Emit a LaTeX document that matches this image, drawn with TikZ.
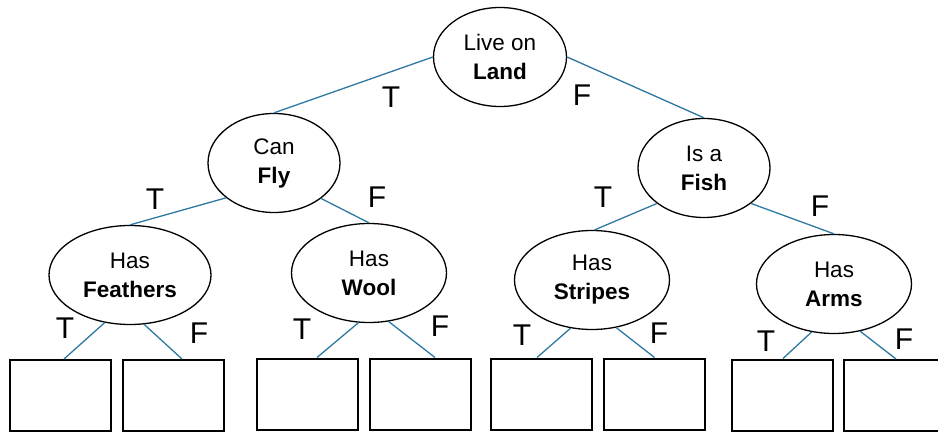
\documentclass[tikz,border=0pt]{standalone}
\usepackage{fontspec}
\setmainfont{Liberation Sans}
\usetikzlibrary{shapes.geometric,calc}
\definecolor{linkblue}{RGB}{46,120,162}
\tikzset{
  q/.style={ellipse, draw=black, line width=1.3pt, inner sep=0pt, align=center,
    font=\fontsize{22.5}{29}\selectfont, minimum height=99pt},
  leaf/.style={rectangle, draw=black, line width=2pt, minimum width=101pt, minimum height=71pt, inner sep=0pt},
  link/.style={draw=linkblue, line width=1.3pt},
  tf/.style={font=\fontsize{30}{30}\selectfont, inner sep=0pt}
}
\begin{document}
\begin{tikzpicture}[x=1pt,y=-1pt]
\useasboundingbox (0,0) rectangle (938,436);
% question nodes
\node[q, minimum width=133pt] (root) at (500,57) {Live on\\\textbf{Land}};
\node[q, minimum width=132pt] (fly) at (274,163) {Can\\\textbf{Fly}};
\node[q, minimum width=132pt] (fish) at (704,168) {Is a\\\textbf{Fish}};
\node[q, minimum width=162pt] (fea) at (130,275) {Has\\\textbf{Feathers}};
\node[q, minimum width=155pt] (wool) at (369,273) {Has\\\textbf{Wool}};
\node[q, minimum width=155pt] (str) at (592,280) {Has\\\textbf{Stripes}};
\node[q, minimum width=155pt] (arms) at (834,284) {Has\\\textbf{Arms}};
% leaves
\node[leaf] (b1) at (60,395.5) {};
\node[leaf] (b2) at (173.5,395.5) {};
\node[leaf] (b3) at (307.5,394) {};
\node[leaf] (b4) at (420.5,394) {};
\node[leaf] (b5) at (541.5,394) {};
\node[leaf] (b6) at (654.5,394) {};
\node[leaf] (b7) at (782,395) {};
\node[leaf] (b8) at (894.5,395.5) {};
% connectors
\draw[link] (root.180) -- (fly.90);
\draw[link] (root.0) -- (fish.90);
\draw[link] (fly.216) -- (fea.90);
\draw[link] (fly.323) -- (wool.90);
\draw[link] (fish.217) -- (str.87);
\draw[link] (fish.323) -- (arms.90);
\draw[link] (fea.242.5) -- ($(b1.north)+(4,0)$);
\draw[link] (fea.286.7) -- ($(b2.north)+(8.5,0)$);
\draw[link] (wool.258.5) -- ($(b3.north)+(9.5,0)$);
\draw[link] (wool.292.6) -- ($(b4.north)+(14.5,0)$);
\draw[link] (str.246.8) -- ($(b5.north)+(-4.5,0)$);
\draw[link] (str.297) -- (b6.north);
\draw[link] (arms.245.8) -- ($(b7.north)+(1,0)$);
\draw[link] (arms.299.9) -- ($(b8.north)+(1.5,0)$);
% labels
\node[tf] (l1) at (391,97) {T};
\node[tf] (l2) at (582,95) {F};
\node[tf] (l3) at (155,199) {T};
\node[tf] (l4) at (377,197) {F};
\node[tf] (l5) at (603,197) {T};
\node[tf] (l6) at (820,206) {F};
\node[tf] (l7) at (65,328) {T};
\node[tf] (l8) at (199,333) {F};
\node[tf] (l9) at (302,329) {T};
\node[tf] (l10) at (440,326) {F};
\node[tf] (l11) at (522,335) {T};
\node[tf] (l12) at (659,333) {F};
\node[tf] (l13) at (766,341) {T};
\node[tf] (l14) at (904,339) {F};
\end{tikzpicture}
\end{document}
